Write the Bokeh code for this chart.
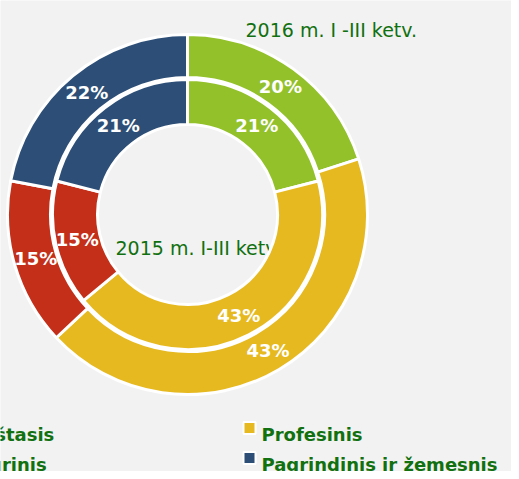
import numpy as np
from bokeh.plotting import figure
from bokeh.models import Range1d, ColumnDataSource
from bokeh.core.properties import value
from bokeh.embed import file_html
from bokeh.resources import INLINE

# ---- data ----
categories = ["Aukštasis", "Profesinis", "Vidurinis", "Pagrindinis ir žemesnis"]
colors = ["#93C12A", "#E6B920", "#C42F19", "#2D4F77"]
share_2016 = [20, 43, 15, 22]   # outer ring
share_2015 = [21, 43, 15, 21]   # inner ring
title_2016 = "2016 m. I -III ketv."
title_2015 = "2015 m. I-III ketv."

TEXT_GREEN = "#11700F"
BG = "#F2F2F2"

W, H = 511, 471
p = figure(width=W, height=H, output_backend="svg", toolbar_location=None,
           x_range=Range1d(0, W), y_range=Range1d(-H, 0),
           min_border=0, background_fill_color=BG, border_fill_color=BG,
           outline_line_color=None)
p.axis.visible = False
p.grid.visible = False

cx, cy = 187, -214

# inner-ring caption is drawn under the rings
p.text(x=[115], y=[-247], text=[title_2015], text_font=value("DejaVu Sans"),
       text_font_size="19px", text_color=TEXT_GREEN, text_baseline="alphabetic",
       text_align="left")

def ring(shares, r_in, r_out, r_lab):
    s = np.array(shares, dtype=float)
    frac = s / s.sum()
    cum_end = np.cumsum(frac)
    cum_start = cum_end - frac
    start = np.pi / 2 - 2 * np.pi * cum_end
    end = np.pi / 2 - 2 * np.pi * cum_start
    src = ColumnDataSource(dict(x=[cx] * len(s), y=[cy] * len(s), start=start, end=end, color=colors))
    p.annular_wedge(x="x", y="y", inner_radius=r_in, outer_radius=r_out,
                    inner_radius_units="screen", outer_radius_units="screen",
                    start_angle="start", end_angle="end", direction="anticlock",
                    fill_color="color", line_color="white", line_width=3, source=src)
    mid = (start + end) / 2
    lx = cx + r_lab * np.cos(mid)
    ly = cy + r_lab * np.sin(mid)
    labels = [f"{int(v)}%" for v in s]
    p.text(x=lx, y=ly, text=labels, text_font=value("DejaVu Sans"), text_font_style="bold",
           text_font_size="18px", text_color="white", text_align="center",
           text_baseline="middle")

ring(share_2015, 90, 135, 113)
ring(share_2016, 137, 180, 158)

# title of outer ring
p.text(x=[245], y=[-29], text=[title_2016], text_font=value("DejaVu Sans"),
       text_font_size="19px", text_color=TEXT_GREEN, text_baseline="alphabetic",
       text_align="left")

# legend (two columns, two rows)
col_x = [-44, 261]
row_base = [-434, -464]
order = [(0, 0, 0), (1, 1, 0), (2, 0, 1), (3, 1, 1)]  # (category index, column, row)
lx, ly, mx, my, lt, lc = [], [], [], [], [], []
for ci, col, row in order:
    lx.append(col_x[col]); ly.append(row_base[row])
    mx.append(col_x[col] - 12); my.append(row_base[row] + 6.5)
    lt.append(categories[ci]); lc.append(colors[ci])
p.scatter(x=mx, y=my, marker="square", size=12, fill_color=lc, line_color="white", line_width=2)
p.text(x=lx, y=ly, text=lt, text_font=value("DejaVu Sans"), text_font_style="bold",
       text_font_size="18px", text_color=TEXT_GREEN, text_baseline="alphabetic",
       text_align="left")

open("out.html", "w").write(file_html(p, INLINE))
